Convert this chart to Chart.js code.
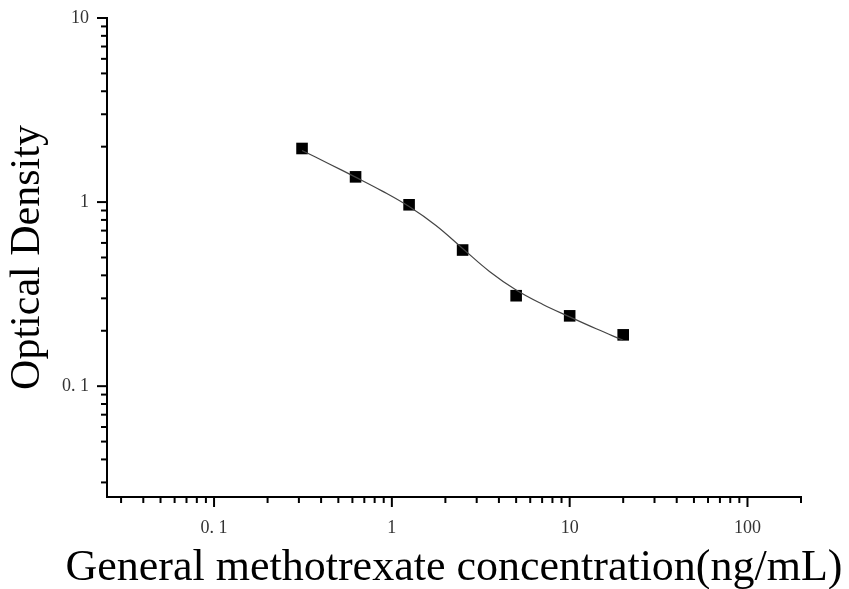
<!DOCTYPE html>
<html>
<head>
<meta charset="utf-8">
<script src="https://cdn.jsdelivr.net/npm/chart.js@4.4.0/dist/chart.umd.min.js"></script>
<style>
  html, body { margin: 0; padding: 0; background: #fff; }
  #chart { display: block; }
</style>
</head>
<body>
<canvas id="chart" width="849" height="589"></canvas>
<script>
// standard points
const concentration = [0.3125, 0.625, 1.25, 2.5, 5, 10, 20];
const opticalDensity = [1.955, 1.371, 0.967, 0.549, 0.310, 0.241, 0.190];

// fitted curve
const fitX = [0.3125, 0.442, 0.625, 0.884, 1.25, 1.77, 2.5, 3.54, 5, 7.07, 10, 14.1, 20];
const fitY = [1.906, 1.617, 1.366, 1.147, 0.945, 0.746, 0.560, 0.420, 0.333, 0.278, 0.238, 0.205, 0.1775];

// labelled ticks
const xMajorTicks = [0.1, 1, 10, 100];
const xTickLabels = ['0. 1', '1', '10', '100'];
const yMajorTicks = [0.1, 1, 10];
const yTickLabels = ['0. 1', '1', '10'];

const xTitle = 'General methotrexate concentration(ng/mL)';
const yTitle = 'Optical Density';

const serif = '"Liberation Serif", "DejaVu Serif", serif';

// all 1..9 x 10^n ticks between min and max
function logTicks(min, max) {
  const out = [];
  for (let e = Math.floor(Math.log10(min)); e <= Math.ceil(Math.log10(max)); e++) {
    for (let m = 1; m <= 9; m++) {
      const v = +(m * Math.pow(10, e)).toPrecision(6);
      if (v >= min * 0.9999 && v <= max * 1.0001) out.push(v);
    }
  }
  return out;
}

const isDecade = v => Math.abs(Math.log10(v) - Math.round(Math.log10(v))) < 1e-6;

function labelFor(majors, labels) {
  return function (value) {
    const i = majors.findIndex(m => Math.abs(m - value) / m < 1e-6);
    return i >= 0 ? labels[i] : '';
  };
}

// outward tick marks (long on decades) + x title wider than the axis
const axisExtras = {
  id: 'axisExtras',
  afterDraw(chart) {
    const { ctx, chartArea } = chart;
    const { x, y } = chart.scales;
    ctx.save();
    ctx.strokeStyle = '#000';
    ctx.lineWidth = 2;
    x.ticks.forEach(t => {
      const px = x.getPixelForValue(t.value);
      const len = isDecade(t.value) ? 10 : 6;
      ctx.beginPath();
      ctx.moveTo(px, x.top);
      ctx.lineTo(px, x.top + len);
      ctx.stroke();
    });
    y.ticks.forEach(t => {
      const py = y.getPixelForValue(t.value);
      const len = isDecade(t.value) ? 10 : 6;
      ctx.beginPath();
      ctx.moveTo(y.right, py);
      ctx.lineTo(y.right - len, py);
      ctx.stroke();
    });
    // chart.js squeezes titles to the axis width, so draw this one here
    ctx.fillStyle = '#000';
    ctx.font = '44px ' + serif;
    ctx.textAlign = 'center';
    ctx.textBaseline = 'alphabetic';
    ctx.fillText(xTitle, (chartArea.left + chartArea.right) / 2, x.bottom - 9);
    ctx.restore();
  }
};

new Chart(document.getElementById('chart'), {
  type: 'scatter',
  data: {
    datasets: [
      {
        type: 'line',
        data: fitX.map((v, i) => ({ x: v, y: fitY[i] })),
        borderColor: '#444',
        borderWidth: 1.2,
        pointRadius: 0,
        tension: 0.4,
        fill: false
      },
      {
        data: concentration.map((v, i) => ({ x: v, y: opticalDensity[i] })),
        pointStyle: 'rect',
        pointRadius: 8.2,
        backgroundColor: '#000',
        borderColor: '#000',
        borderWidth: 0
      }
    ]
  },
  options: {
    responsive: false,
    animation: false,
    devicePixelRatio: 1,
    layout: { padding: { top: 18, right: 48, left: 0, bottom: 0 } },
    plugins: { legend: { display: false }, tooltip: { enabled: false } },
    scales: {
      x: {
        type: 'logarithmic',
        min: 0.025,
        max: 200,
        afterBuildTicks: s => { s.ticks = logTicks(s.min, s.max).map(v => ({ value: v })); },
        afterFit: s => { s.height = 92; s.paddingLeft = 0; s.paddingRight = 0; },
        grid: { display: false, drawTicks: false },
        border: { display: true, color: '#000', width: 2 },
        ticks: {
          autoSkip: false,
          maxRotation: 0,
          padding: 20,
          color: '#333',
          font: { family: serif, size: 18 },
          callback: labelFor(xMajorTicks, xTickLabels)
        }
      },
      y: {
        type: 'logarithmic',
        min: 0.025,
        max: 10,
        afterBuildTicks: s => { s.ticks = logTicks(s.min, s.max).map(v => ({ value: v })); },
        afterFit: s => { s.width = 107; s.paddingTop = 0; s.paddingBottom = 0; },
        grid: { display: false, drawTicks: false },
        border: { display: true, color: '#000', width: 2 },
        ticks: {
          autoSkip: false,
          padding: 18,
          color: '#333',
          font: { family: serif, size: 18 },
          callback: labelFor(yMajorTicks, yTickLabels)
        },
        title: {
          display: true,
          text: yTitle,
          color: '#000',
          font: { family: serif, size: 42, lineHeight: 1 },
          padding: { top: 7, bottom: 0 }
        }
      }
    }
  },
  plugins: [axisExtras]
});
</script>
</body>
</html>
